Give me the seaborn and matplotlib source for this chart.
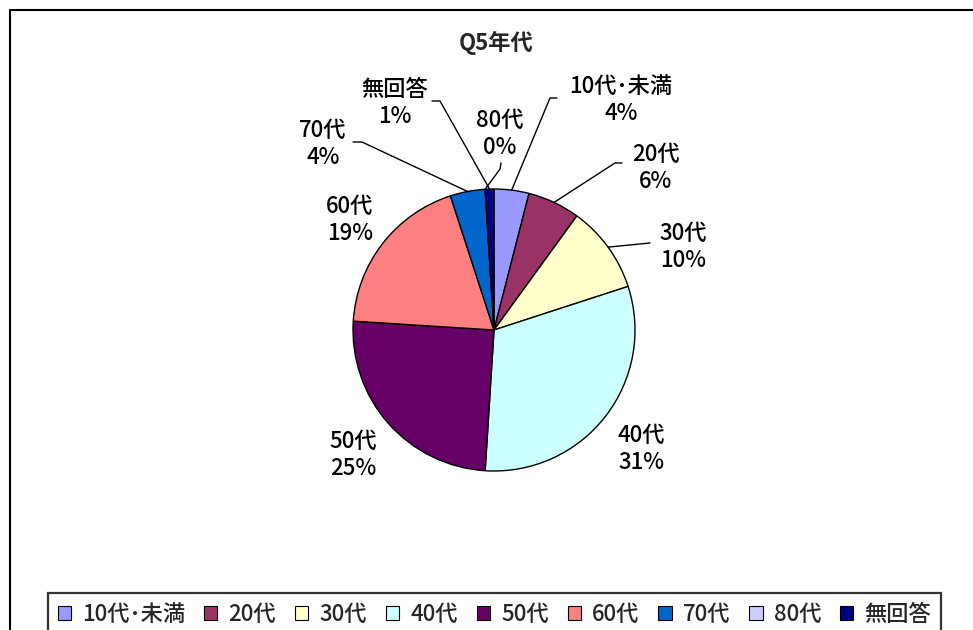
import matplotlib
matplotlib.use("Agg")
import matplotlib.pyplot as plt
import seaborn as sns
import numpy as np
from matplotlib.lines import Line2D
from matplotlib.patches import Patch

# ---- data ----
categories = ["10代･未満", "20代", "30代", "40代", "50代", "60代", "70代", "80代", "無回答"]
percent = [4, 6, 10, 31, 25, 19, 4, 0, 1]
colors = ["#9999FF", "#993366", "#FFFFCC", "#CCFFFF", "#660066",
          "#FF8080", "#0066CC", "#CCCCFF", "#000080"]
title = "Q5年代"

sns.set_theme(style="white")
plt.rcParams['font.family'] = ['Noto Sans CJK JP', 'DejaVu Sans']

W, H = 973, 630
fig = plt.figure(figsize=(W / 100, H / 100), dpi=100)
fig.patch.set_facecolor("white")
ax = fig.add_axes([0, 0, 1, 1])

cx, cy, R = 494, H - 330, 141
wedges, _ = ax.pie(percent, colors=colors, startangle=90, counterclock=False,
                   center=(cx, cy), radius=R,
                   wedgeprops=dict(edgecolor="black", linewidth=1.0))
ax.set_xlim(0, W)
ax.set_ylim(0, H)
ax.set_aspect("equal")
ax.axis("off")

# label block centres (pixel coords from top) and leader-line paths
label_pos = {
    "10代･未満": (621, 100),
    "20代": (656, 168),
    "30代": (683, 247),
    "40代": (641, 449),
    "50代": (353, 455),
    "60代": (350, 220),
    "70代": (323, 144),
    "80代": (500, 134),
    "無回答": (395, 103),
}
leaders = {
    "10代･未満": [(550, 98), (557, 98)],
    "20代": [(615, 163), (622, 163)],
    "30代": [(650, 243)],
    "70代": [(362, 142), (353, 142)],
    "80代": [(500, 169), (501, 163)],
    "無回答": [(440, 101), (432, 101)],
}

for w, cat, p in zip(wedges, categories, percent):
    tx, ty = label_pos[cat]
    ax.text(tx, H - ty, f"{cat}\n{p}%", ha="center", va="center",
            fontsize=16, fontweight="medium", linespacing=1.25, color="black")
    if cat in leaders:
        th = np.deg2rad((w.theta1 + w.theta2) / 2)
        ex, ey = cx + R * np.cos(th), cy + R * np.sin(th)
        xs = [ex] + [q[0] for q in leaders[cat]]
        ys = [ey] + [H - q[1] for q in leaders[cat]]
        ax.plot(xs, ys, color="black", lw=1.0)

fig.text(496 / W, 1 - 43 / H, title, ha="center", va="center",
         fontsize=16, fontweight="bold")

# legend
handles = [Patch(facecolor=c, edgecolor="black", linewidth=0.8) for c in colors]
leg = fig.legend(handles, categories, loc="upper center",
                 bbox_to_anchor=(494.5 / W, 1 - 593 / H), ncol=9,
                 frameon=True, fancybox=False, edgecolor="#333333",
                 handlelength=0.6, handleheight=0.6, handletextpad=0.5,
                 columnspacing=0.85, borderpad=0.45, borderaxespad=0.0,
                 framealpha=1, prop=dict(size=16, weight="medium"))
leg.get_frame().set_linewidth(1.6)

# outer frame
fig.add_artist(Line2D([10 / W, 10 / W], [0, 1 - 10 / H], color="black", lw=1.5,
                      transform=fig.transFigure))
fig.add_artist(Line2D([10 / W, 1], [1 - 10 / H, 1 - 10 / H], color="black", lw=1.5,
                      transform=fig.transFigure))

fig.savefig("out.png", dpi=100, facecolor="white")
